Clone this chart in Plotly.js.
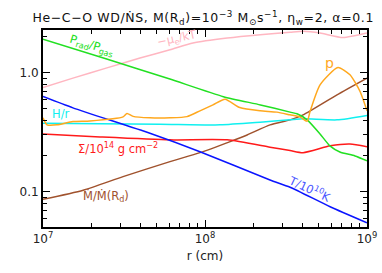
<!DOCTYPE html>
<html><head><meta charset="utf-8">
<script src="https://cdn.plot.ly/plotly-3.0.1.min.js"></script>
<style>html,body{margin:0;padding:0;background:#fff}#c{width:382px;height:273px}
.gtitle{letter-spacing:0.6px}</style>
</head><body><div id="c"></div>
<script>
// P_rad/P_gas
const rGreen = [1.0e7, 2.5e7, 6.0e7, 1.3e8, 2.2e8, 3.35e8, 3.7e8, 4.27e8, 5.13e8, 5.9e8, 6.8e8, 8.43e8, 1.0e9];
const vGreen = [1.92, 1.30, 0.89, 0.63, 0.537, 0.467, 0.452, 0.402, 0.306, 0.243, 0.216, 0.20, 0.182];
// -mu_e/kT
const rPink = [1.0e7, 1.53e7, 2.48e7, 3.97e7, 6.08e7, 8.43e7, 1.37e8, 2.19e8, 3.35e8, 4.03e8, 5.13e8, 7.11e8, 1.0e9];
const vPink = [0.752, 0.902, 1.10, 1.33, 1.56, 1.78, 1.96, 2.09, 2.19, 2.23, 2.16, 1.98, 2.16];
// T/10^10 K
const rBlue = [1.0e7, 1.53e7, 4.57e7, 9.31e7, 2.52e8, 3.35e8, 5.92e8, 1.0e9];
const vBlue = [0.631, 0.507, 0.31, 0.217, 0.1255, 0.109, 0.0748, 0.0548];
// Sigma/10^14
const rRed = [1.0e7, 2.25e7, 6.08e7, 1.37e8, 2.52e8, 3.35e8, 4.03e8, 5.92e8, 7.85e8, 1.0e9];
const vRed = [0.306, 0.289, 0.273, 0.273, 0.237, 0.222, 0.213, 0.243, 0.252, 0.239];
// H/r
const rCyan = [1.0e7, 2.25e7, 5.27e7, 1.24e8, 2.19e8, 3.35e8, 4.03e8, 6.53e8, 1.0e9];
const vCyan = [0.377, 0.372, 0.37, 0.365, 0.384, 0.402, 0.41, 0.402, 0.438];
// Mdot/Mdot(Rd)
const rBrown = [1.0e7, 1.77e7, 3.12e7, 6.08e7, 9.31e7, 1.43e8, 1.82e8, 2.52e8, 3.35e8, 4.03e8, 6.53e8, 1.0e9];
const vBrown = [0.0863, 0.103, 0.134, 0.179, 0.213, 0.264, 0.30, 0.365, 0.402, 0.443, 0.653, 0.902];
// p
const rOrange = [1.0e7, 1.06e7, 1.22e7, 1.53e7, 1.95e7, 3.12e7, 3.30e7, 3.60e7, 4.57e7, 6.08e7, 7.74e7, 9.31e7, 1.12e8, 1.33e8, 1.64e8, 2.19e8, 2.78e8, 3.35e8, 3.85e8, 4.27e8, 4.45e8, 5.13e8, 6.62e8, 7.85e8, 9.06e8, 1.0e9];
const vOrange = [0.418, 0.365, 0.365, 0.389, 0.394, 0.426, 0.455, 0.430, 0.418, 0.418, 0.428, 0.479, 0.537, 0.600, 0.51, 0.479, 0.467, 0.443, 0.426, 0.392, 0.472, 0.792, 1.108, 0.962, 0.696, 0.479];

const xTickVals = [1e7, 1e8, 1e9];
const xTickText = ['10<sup>7</sup>', '10<sup>8</sup>', '10<sup>9</sup>'];
const yTickVals = [0.1, 1.0];
const yTickText = ['0.1', '1.0'];

const xMinor = [];
for (const d of [1e7, 1e8]) for (let k = 2; k <= 9; k++) xMinor.push(k * d);
const yMinor = [];
for (const d of [0.01, 0.1, 1]) for (let k = 2; k <= 9; k++) { const v = k * d; if (v > 0.05 && v < 2.3) yMinor.push(v); }

const C = {green:'#22e022', pink:'#ffb6c1', blue:'#0a14ff', red:'#ff1a1a', cyan:'#10f0f0', brown:'#a0522d', orange:'#ffa81e'};

function tr(x, y, col, shape) {
  return {x:x, y:y, mode:'lines', type:'scatter', line:{color:col, width:1.5, shape:shape||'linear', smoothing:0.6}, hoverinfo:'skip'};
}
const data = [
  tr(rPink, vPink, C.pink, 'spline'),
  tr(rBrown, vBrown, C.brown, 'spline'),
  tr(rCyan, vCyan, C.cyan, 'spline'),
  tr(rRed, vRed, C.red, 'spline'),
  tr(rBlue, vBlue, C.blue, 'spline'),
  tr(rGreen, vGreen, C.green, 'spline'),
  tr(rOrange, vOrange, C.orange, 'spline')
];

const F = 'DejaVu Sans, Verdana, sans-serif';
function ann(x, y, text, col, ang, size) {
  return {xref:'paper', yref:'paper', x:x, y:y, text:text, showarrow:false, textangle:ang||0,
          font:{family:F, size:size||11.5, color:col}, xanchor:'center', yanchor:'middle'};
}
const axCommon = {type:'log', showgrid:false, zeroline:false, showline:true, linecolor:'#000', linewidth:2,
  mirror:'ticks', ticks:'inside', ticklen:7, tickwidth:1, tickcolor:'#000',
  tickfont:{family:F, size:12, color:'#222'}};

const layout = {
  width:382, height:273,
  margin:{l:43, r:15, t:30, b:46},
  paper_bgcolor:'#fff', plot_bgcolor:'#fff',
  showlegend:false,
  title:{text:'He−C−O WD/ṄS, M(R<sub>d</sub>)=10<sup>−3</sup> M<sub>⊙</sub>s<sup>−1</sup>, η<sub>w</sub>=2, α=0.1',
         font:{family:F, size:12.5, color:'#111'}, x:0.532, xanchor:'center', y:0.935, yanchor:'middle'},
  xaxis:Object.assign({}, axCommon, {range:[7, 9], tickvals:xTickVals, ticktext:xTickText,
    minor:{tickvals:xMinor, ticks:'inside', ticklen:4, tickcolor:'#000', showgrid:false},
    title:{text:'r (cm)', font:{family:F, size:12, color:'#222'}, standoff:6}}),
  yaxis:Object.assign({}, axCommon, {range:[Math.log10(0.0505), Math.log10(2.29)], tickvals:yTickVals, ticktext:yTickText,
    minor:{tickvals:yMinor, ticks:'inside', ticklen:4, tickcolor:'#000', showgrid:false}}),
  annotations:[
    ann(0.151, 0.919, 'P<sub>rad</sub>/P<sub>gas</sub>', C.green, 17),
    ann(0.414, 0.955, '−μ<sub>e</sub>/kT', C.pink, -12),
    ann(0.055, 0.574, 'H/r', C.cyan, 0),
    ann(0.231, 0.396, 'Σ/10<sup>14</sup> g cm<sup>−2</sup>', C.red, 0),
    ann(0.194, 0.157, 'Ṁ/Ṁ(R<sub>d</sub>)', C.brown, 0),
    ann(0.821, 0.193, 'T/10<sup>10</sup>K', '#4a55ff', 25),
    ann(0.883, 0.832, 'p', C.orange, 0, 14)
  ]
};
Plotly.newPlot('c', data, layout, {staticPlot:true, displayModeBar:false});
</script></body></html>
